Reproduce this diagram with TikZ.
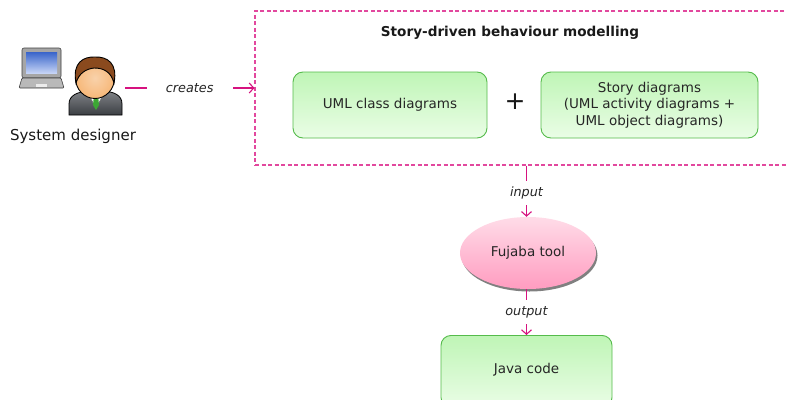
\documentclass[tikz,border=0pt]{standalone}
\usepackage{fontspec}
\setmainfont{DejaVu Sans}
\usetikzlibrary{arrows.meta,shapes.geometric,shadows,calc}

\definecolor{linkc}{HTML}{D6127F}
\definecolor{framec}{HTML}{E2489E}
\definecolor{boxline}{HTML}{55BB4B}
\definecolor{boxtop}{HTML}{BFF5B6}
\definecolor{boxbot}{HTML}{EAFDE6}
\definecolor{pinktop}{HTML}{FFDCE8}
\definecolor{pinkbot}{HTML}{FF9CC0}
\definecolor{skin}{HTML}{F6BE86}
\definecolor{hair}{HTML}{8A4A1E}
\definecolor{vest}{HTML}{4A4E54}
\definecolor{tie}{HTML}{3DA635}
\definecolor{screen}{HTML}{3F6FE0}

\tikzset{
  conn/.style={draw=linkc, line width=1.1pt},
  tip/.style={-{Straight Barb[length=4.5pt,width=10pt,line width=1.1pt]}},
  tag/.style={font=\fontsize{12.8}{15}\selectfont\itshape, text=black!85, fill=white,
              inner xsep=19pt, inner ysep=6pt},
  greenbox/.style={draw=boxline, line width=0.9pt, rounded corners=10pt,
                   top color=boxtop, bottom color=boxbot, align=center,
                   font=\fontsize{13.5}{16.5}\selectfont, text=black!85, inner sep=0pt},
  storyframe/.style={draw=framec, line width=1.1pt, dash pattern=on 4pt off 2.5pt, inner sep=0pt},
  toolshape/.style={ellipse, top color=pinktop, bottom color=pinkbot, inner sep=0pt,
                    drop shadow={shadow xshift=1.5pt, shadow yshift=-2.5pt, fill=black!55, opacity=0.9},
                    font=\fontsize{13.5}{15}\selectfont, text=black!85}
}

\begin{document}
\begin{tikzpicture}[x=1pt,y=-1pt]
\useasboundingbox (0,0) rectangle (787,399);
\clip (0,0) rectangle (787,399);
\fill[white] (0,0) rectangle (787,399);

% laptop
\fill[gray!70, draw=gray!50!black, line width=0.6pt, rounded corners=2pt] (22,48) rectangle (61,78);
\shade[top color=screen!90!black, bottom color=screen!30!white] (26,52) rectangle (57,73);
\fill[gray!55, draw=gray!50!black, line width=0.6pt, rounded corners=1pt]
  (22,78) -- (61,78) -- (64,88) -- (19,88) -- cycle;
\fill[gray!15] (36,84) rectangle (47,86.5);

% person
\shade[top color=vest!70!white, bottom color=vest!80!black, draw=black, line width=0.8pt]
  (69,115) -- (69,104) .. controls (69,95) and (78,92) .. (88,91) -- (104,91)
  .. controls (114,92) and (122,95) .. (122,104) -- (122,115) -- cycle;
\fill[white, draw=black!60, line width=0.4pt] (87,91.5) -- (96,108) -- (105,91.5) -- cycle;
\fill[tie] (94,95) -- (98,95) -- (99,105) -- (96,110) -- (93,105) -- cycle;
\shade[inner color=skin!70!white, outer color=skin!90!orange, draw=black, line width=0.9pt]
  (95,78) ellipse (19.5 and 20.5);
\fill[hair, draw=black, line width=0.9pt]
  (76,83) .. controls (72,62) and (84,56.5) .. (95,57)
  .. controls (107,56.5) and (118,63) .. (114,83)
  .. controls (111,72) and (104,68) .. (94,68)
  .. controls (86,69) and (79,73) .. (76,83) -- cycle;
\coordinate (designer) at (125,88);
\node[font=\fontsize{15}{17}\selectfont, text=black!90] (designerlabel) at (73,136) {System designer};

% story-driven modelling frame (runs off the right edge)
\node[storyframe, minimum width=545pt, minimum height=154pt] (frame) at (527.5,88) {};
\node[font=\bfseries\fontsize{13.6}{16}\selectfont, text=black!90] (title) at (510,33)
  {Story-driven behaviour modelling};
\node[greenbox, minimum width=194pt, minimum height=66pt] (classdiag) at (390,105)
  {UML class diagrams};
\node[font=\fontsize{25}{25}\selectfont, text=black!90] (plus) at (515,102) {+};
\node[greenbox, minimum width=217pt, minimum height=66pt] (storydiag) at (649.5,105)
  {Story diagrams\\(UML activity diagrams +\\UML object diagrams)};

% tool and generated code
\node[toolshape, minimum width=136pt, minimum height=72pt] (tool) at (528,253) {Fujaba tool};
\node[greenbox, anchor=north, minimum width=171pt, minimum height=72pt] (java) at (526.5,335)
  {\raisebox{7pt}{Java code}};

% connectors
\draw[conn,tip] (designer) -- node[tag] {creates} (frame.west);
\draw[conn,tip] (frame.south -| java.north) -- node[tag, yshift=-2pt] {input} (tool.north -| java.north);
\draw[conn,tip] (tool.south -| java.north) -- node[tag] {output} (java.north);
\end{tikzpicture}
\end{document}
